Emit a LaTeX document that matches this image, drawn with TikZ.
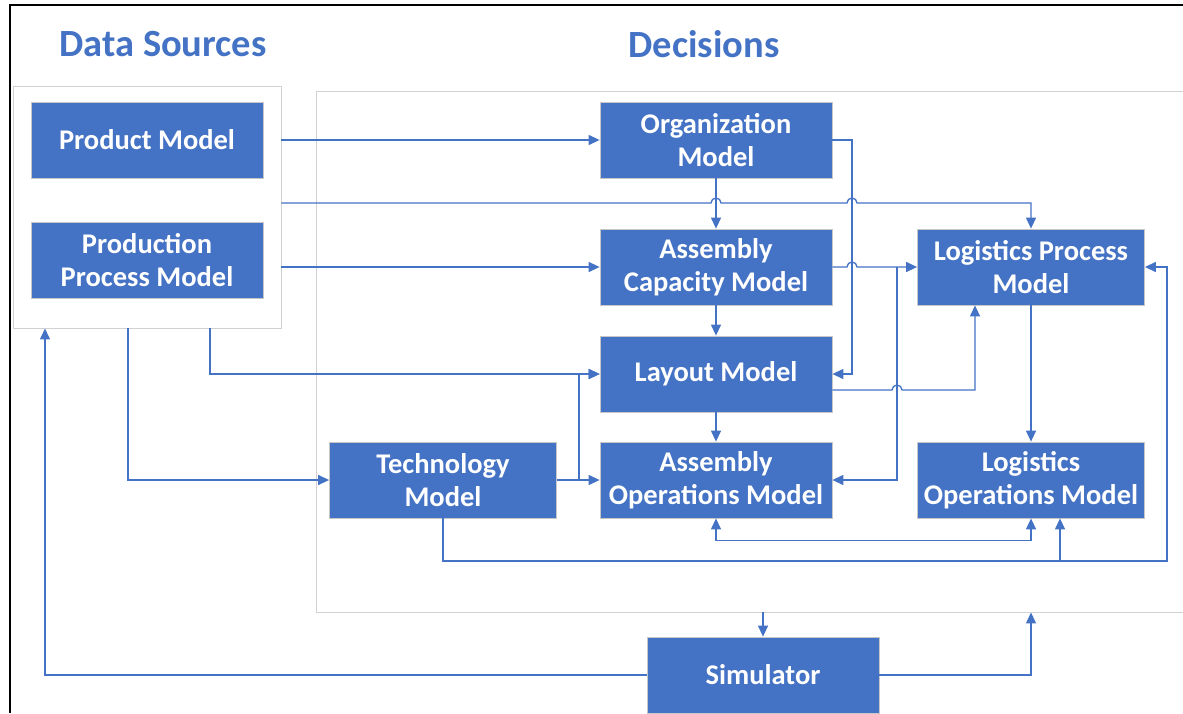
\documentclass[tikz,border=0pt]{standalone}
\usepackage{fontspec}
\setmainfont{Carlito}
\usetikzlibrary{arrows.meta,calc}
\definecolor{blu}{HTML}{4472C4}
\begin{document}
\begin{tikzpicture}[x=1pt,y=-1pt,
  box/.style={rectangle, fill=blu, draw=black!22, line width=0.8pt, minimum width=232pt, minimum height=76pt, text=white, font=\bfseries\fontsize{28.5}{33.5}\selectfont, align=center, inner sep=2pt},
  cont/.style={rectangle, draw=black!18, line width=0.9pt, inner sep=0pt},
  plain/.style={draw=blu, line width=1.3pt},
  conn/.style={plain, -{Triangle[length=11pt,width=10pt]}},
  both/.style={plain, {Triangle[length=11pt,width=10pt]}-{Triangle[length=11pt,width=10pt]}},
  title/.style={text=blu, font=\bfseries\fontsize{38.5}{44}\selectfont}]
\useasboundingbox (0,0) rectangle (1183,713);
% frame
\draw[line width=2pt] (10,713) -- (10,5) -- (1183,5);
% containers
\node[cont, minimum width=268pt, minimum height=242pt] (ds) at (147,207) {};
\node[cont, minimum width=884pt, minimum height=521pt] (dec) at (758,351.5) {};
% titles
\node[title] (t1) at (163,44) {Data Sources};
\node[title] (t2) at (704,44) {Decisions};
% boxes
\node[box] (pm) at (147,140) {Product Model};
\node[box] (ppm) at (147,260) {Production\\Process Model};
\node[box] (org) at (716,140) {Organization\\Model};
\node[box] (ac) at (716,267) {Assembly\\Capacity Model};
\node[box] (lay) at (716,374) {Layout Model};
\node[box] (ao) at (716,480) {Assembly\\Operations Model};
\node[box, minimum width=227pt] (tech) at (443,480) {Technology\\Model};
\node[box, minimum width=227pt] (lp) at (1031,267) {Logistics Process\\Model};
\node[box, minimum width=227pt] (lo) at (1031,480) {Logistics\\Operations Model};
\node[box] (sim) at (763,675) {Simulator};
% helper coordinates
\coordinate (y203) at (0,203);
\coordinate (x210) at (210,0);
\coordinate (x128) at (128,0);
\coordinate (x975) at (975,0);
\coordinate (x1060) at (1060,0);
\coordinate (x45) at (45,0);
% connectors
\draw[conn] (ds.east |- org.west) -- (org.west);
\draw[conn] (ds.east |- y203) -- (711,203) arc[start angle=180,end angle=0,radius=5pt] -- (847,203) arc[start angle=180,end angle=0,radius=5pt] -| (lp.north);
\draw[conn] (ds.east |- ac.west) -- (ac.west);
\draw[conn] (org.south) -- (ac.north);
\draw[conn] (org.east) -- (852,140) |- (lay.east);
\draw[conn] (ac.east) -- (847,267) arc[start angle=180,end angle=0,radius=5pt] -- (lp.west);
\draw[conn] (897,267) |- (ao.east);
\draw[conn] ($(lay.east)+(0,16)$) -- (892,390) arc[start angle=180,end angle=0,radius=5pt] -| (x975 |- lp.south);
\draw[conn] (ac.south) -- (lay.north);
\draw[conn] (lay.south) -- (ao.north);
\draw[conn] (x210 |- ds.south) |- (lay.west);
\draw[conn] (x128 |- ds.south) |- (tech.west);
\draw[conn] (tech.east) -- (ao.west);
\draw[conn] (579,480) |- (lay.west);
\draw[conn] (lp.south) -- (lo.north);
\draw[both] (ao.south) -- ++(0,22) -| (lo.south);
\draw[conn] (tech.south) |- (1167,561) |- (lp.east);
\draw[conn] (1060,561) -- (x1060 |- lo.south);
\draw[conn] (sim.north |- dec.south) -- (sim.north);
\draw[conn] (sim.east) -| (lo.south |- dec.south);
\draw[conn] (sim.west) -| (x45 |- ds.south);
\end{tikzpicture}
\end{document}
